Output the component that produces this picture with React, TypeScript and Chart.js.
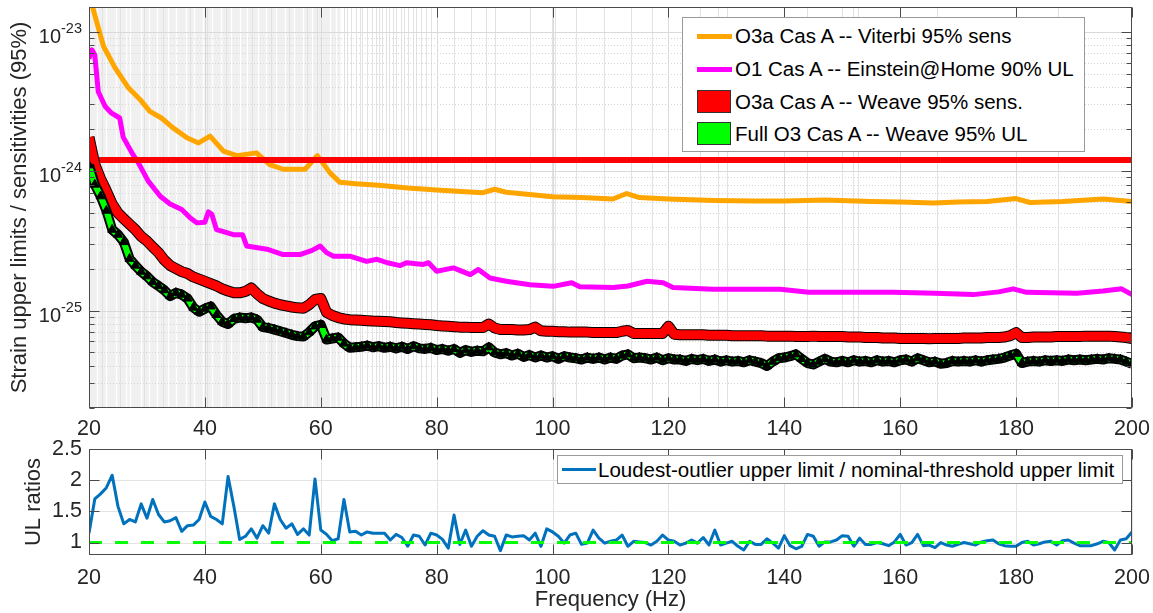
import React, { useEffect, useRef } from 'react';
import { Chart, registerables } from 'chart.js';

Chart.register(...registerables);

const FONT = "'Liberation Sans', Arial, Helvetica, sans-serif";
const TXT = '#262626';
const TICK_FONT = 21.5;
const TITLE_FONT = 22;

// ---------- data ----------
const FREQ = Array.from({ length: 181 }, (_, i) => 20 + i); // 1 Hz bins 20..200

// Full O3 Cas A -- Weave 95% UL (units of 1e-26)
const FULL_O3_UL = [
  110, 80, 66, 52, 38, 35, 31, 23.5, 21, 19,
  17.6, 16, 15, 14, 12.7, 13.4, 13, 12.2, 10.5, 9.8,
  10.3, 10.7, 9.3, 8.3, 8.0, 8.7, 8.9, 8.8, 8.9, 8.6,
  7.6, 7.5, 7.3, 7.1, 6.9, 6.7, 6.55, 6.5, 7.0, 7.7,
  7.9, 6.2, 6.3, 6.4, 5.8, 5.4, 5.45, 5.5, 5.6, 5.45,
  5.55, 5.4, 5.5, 5.35, 5.5, 5.3, 5.55, 5.35, 5.3, 5.4,
  5.2, 5.3, 5.15, 5.3, 4.97, 5.2, 5.05, 5.15, 5.1, 5.45,
  5.0, 4.85, 4.95, 4.75, 4.9, 4.65, 4.8, 4.6, 4.75, 4.6,
  4.7, 4.5, 4.7, 4.6, 4.55, 4.45, 4.6, 4.5, 4.6, 4.45,
  4.6, 4.5, 4.75, 4.85, 4.55, 4.6, 4.55, 4.45, 4.6, 4.4,
  4.55, 4.45, 4.45, 4.35, 4.5, 4.4, 4.5, 4.35, 4.45, 4.3,
  4.4, 4.3, 4.35, 4.25, 4.4, 4.3, 4.2, 4.0, 4.3, 4.55,
  4.6, 4.7, 4.85, 4.5, 4.2, 4.1, 4.3, 4.5, 4.3, 4.25,
  4.35, 4.25, 4.4, 4.3, 4.35, 4.25, 4.4, 4.3, 4.35, 4.25,
  4.4, 4.45, 4.3, 4.55, 4.4, 4.25, 4.3, 4.15, 4.2, 4.35,
  4.3, 4.35, 4.3, 4.4, 4.3, 4.4, 4.45, 4.5, 4.6, 4.75,
  4.9, 4.2, 4.3, 4.35, 4.3, 4.4, 4.35, 4.4, 4.35, 4.45,
  4.4, 4.45, 4.4, 4.45, 4.5, 4.45, 4.55, 4.5, 4.45, 4.3,
  4.15,
];

// O3a Cas A -- Weave 95% sens. (units of 1e-26)
const O3A_WEAVE_SENS = [
  175, 112, 88, 72, 58, 50, 45.5, 41.5, 38, 34,
  31.5, 28.5, 26, 23, 21, 20, 19, 18.4, 17.4, 16.8,
  16.2, 15.6, 15, 14.3, 13.8, 13.4, 13.4, 13.7, 14.5, 13.2,
  12.2, 11.7, 11.3, 11.0, 10.8, 10.6, 10.45, 10.4, 11.0, 12.0,
  12.2, 9.7, 9.2, 8.9, 8.7, 8.6, 8.55, 8.5, 8.45, 8.4,
  8.37, 8.33, 8.3, 8.2, 8.15, 8.1, 8.05, 8.0, 7.95, 7.9,
  7.8, 7.75, 7.7, 7.65, 7.6, 7.6, 7.55, 7.55, 7.55, 8.0,
  7.5, 7.3, 7.3, 7.3, 7.25, 7.25, 7.3, 7.6, 7.15, 7.1,
  7.1, 7.05, 7.05, 7.0, 7.0, 7.0, 7.0, 6.95, 6.95, 6.95,
  6.95, 6.95, 7.1, 7.2, 6.85, 6.85, 6.85, 6.85, 6.85, 6.85,
  7.7, 6.75, 6.7, 6.7, 6.7, 6.7, 6.7, 6.65, 6.65, 6.65,
  6.65, 6.6, 6.6, 6.6, 6.6, 6.6, 6.6, 6.55, 6.55, 6.55,
  6.55, 6.55, 6.5, 6.5, 6.5, 6.55, 6.5, 6.5, 6.5, 6.5,
  6.5, 6.45, 6.45, 6.45, 6.4, 6.4, 6.4, 6.35, 6.35, 6.35,
  6.3, 6.3, 6.3, 6.3, 6.3, 6.27, 6.3, 6.3, 6.3, 6.3,
  6.3, 6.35, 6.35, 6.35, 6.35, 6.4, 6.4, 6.4, 6.45, 6.6,
  6.95, 6.4, 6.4, 6.45, 6.45, 6.45, 6.45, 6.5, 6.5, 6.5,
  6.5, 6.5, 6.55, 6.55, 6.55, 6.55, 6.55, 6.5, 6.45, 6.4,
  6.3,
];

// O3a Cas A -- Viterbi 95% sens
const VITERBI_F = [
  20, 22.5, 24.5, 26.8, 28.8, 30.5, 32.5, 34.5, 36.9, 38.9, 40.9, 43.2, 45.5, 48.9, 51.2,
  53.5, 57.3, 59.4, 61.6, 63.3, 66, 70, 75, 80, 85, 88, 90, 92, 96, 100, 105, 110.4,
  112.8, 115, 120, 128, 135, 140, 147, 155, 160, 165.7, 170, 175, 180, 182.4, 188, 195, 200,
];
const VITERBI_H = [
  1.85e-23, 7.85e-24, 5.49e-24, 3.95e-24, 3.26e-24, 2.68e-24, 2.4e-24, 2.04e-24, 1.73e-24,
  1.59e-24, 1.78e-24, 1.39e-24, 1.29e-24, 1.35e-24, 1.11e-24, 1.03e-24, 1.03e-24, 1.29e-24,
  9.7e-25, 8.3e-25, 8.1e-25, 7.9e-25, 7.55e-25, 7.3e-25, 7.1e-25, 7.0e-25, 7.4e-25, 7.05e-25,
  6.8e-25, 6.55e-25, 6.45e-25, 6.3e-25, 6.9e-25, 6.45e-25, 6.3e-25, 6.15e-25, 6.1e-25,
  6.1e-25, 6.2e-25, 6.05e-25, 6.0e-25, 5.9e-25, 6.0e-25, 6.05e-25, 6.35e-25, 5.95e-25,
  6.05e-25, 6.3e-25, 6.05e-25,
];

// O1 Cas A -- Einstein@Home 90% UL
const EAH_F = [
  20, 20.5, 21, 21.6, 22.8, 23.9, 25.3, 25.9, 27.6, 28.5, 30.2, 32.3, 34, 36, 37.5, 38.6,
  40, 40.6, 41.2, 42, 43.5, 44.9, 46.5, 47.2, 50.7, 53.5, 56.4, 58.5, 59.9, 61, 62.2, 65,
  67.9, 69.7, 71.5, 73.7, 74.8, 77.7, 78.6, 80, 82.9, 85.8, 87.2, 89.2, 92, 96.1, 100.1,
  103.3, 104.7, 110.5, 113, 116.3, 119.1, 120.8, 127.7, 139.3, 144.2, 158.8, 166, 172.6,
  177, 179.5, 181.8, 190.5, 195, 198.2, 200,
];
const EAH_H = [
  6.4e-24, 7.4e-24, 6.8e-24, 3.7e-24, 2.9e-24, 2.6e-24, 2.4e-24, 1.75e-24, 1.31e-24, 1.15e-24,
  8.5e-25, 6.6e-25, 5.8e-25, 5.3e-25, 4.6e-25, 4.25e-25, 4.3e-25, 5.1e-25, 4.9e-25, 3.8e-25,
  3.65e-25, 3.5e-25, 3.5e-25, 2.9e-25, 2.75e-25, 2.52e-25, 2.52e-25, 2.7e-25, 2.9e-25,
  2.6e-25, 2.45e-25, 2.45e-25, 2.25e-25, 2.33e-25, 2.2e-25, 2.1e-25, 2.2e-25, 2.14e-25,
  2.2e-25, 1.91e-25, 2.02e-25, 1.81e-25, 1.97e-25, 1.71e-25, 1.62e-25, 1.53e-25, 1.49e-25,
  1.58e-25, 1.48e-25, 1.46e-25, 1.5e-25, 1.62e-25, 1.58e-25, 1.46e-25, 1.42e-25, 1.42e-25,
  1.35e-25, 1.35e-25, 1.33e-25, 1.3e-25, 1.36e-25, 1.43e-25, 1.35e-25, 1.33e-25, 1.38e-25,
  1.43e-25, 1.3e-25,
];

// horizontal reference (indirect limit)
const INDIRECT_LIMIT = 1.2e-24;

// Loudest-outlier UL / nominal-threshold UL
const UL_RATIO = [
  1.15, 1.70, 1.78, 1.88, 2.08, 1.58, 1.30, 1.37, 1.33, 1.62,
  1.39, 1.69, 1.45, 1.33, 1.35, 1.40, 1.18, 1.27, 1.28, 1.37,
  1.65, 1.42, 1.37, 1.30, 2.06, 1.58, 1.05, 1.10, 1.22, 1.07,
  1.27, 1.15, 1.62, 1.37, 1.23, 1.30, 1.13, 1.22, 1.12, 2.02,
  1.20, 1.13, 1.03, 1.06, 1.69, 1.17, 1.18, 1.12, 1.17, 1.15,
  1.15, 1.15, 1.04, 1.13, 1.08, 0.94, 1.12, 1.10, 0.96, 1.15,
  1.12, 1.05, 0.91, 1.44, 0.97, 1.20, 0.94, 1.10, 1.19, 1.12,
  1.10, 0.87, 1.12, 1.09, 1.10, 1.11, 1.04, 1.15, 0.94, 1.22,
  1.17, 1.10, 0.99, 1.12, 1.15, 0.97, 0.99, 1.20, 1.07, 0.99,
  1.02, 1.04, 1.12, 0.94, 1.02, 1.01, 1.00, 0.96, 1.02, 1.12,
  1.04, 1.02, 0.96, 0.99, 1.04, 0.99, 1.08, 0.96, 1.20, 0.96,
  0.99, 1.02, 0.94, 0.88, 1.02, 0.97, 0.97, 1.06, 0.99, 0.91,
  1.11, 0.95, 0.90, 0.94, 1.13, 1.10, 0.94, 1.01, 1.01, 1.04,
  1.11, 1.10, 0.94, 1.07, 0.97, 0.97, 1.00, 0.98, 0.95, 1.01,
  1.13, 0.96, 1.00, 1.13, 0.95, 0.96, 0.92, 1.00, 0.96, 0.94,
  0.97, 1.00, 0.98, 0.96, 1.01, 1.03, 1.04, 0.98, 0.95, 0.94,
  0.94, 1.00, 1.02, 0.96, 0.98, 1.01, 1.02, 0.96, 1.03, 1.04,
  0.99, 0.95, 0.95, 0.95, 0.98, 1.02, 1.00, 0.88, 1.04, 1.06,
  1.17,
];
const NOMINAL_RATIO = 1;

// axes
const X_TICKS = [20, 40, 60, 80, 100, 120, 140, 160, 180, 200];
const Y_TICKS_TOP = [1e-25, 1e-24, 1e-23];
const Y_TICK_BASE_TOP = '10';
const Y_TICK_EXP_TOP = ['-25', '-24', '-23'];
const Y_TICKS_BOT = [1, 1.5, 2, 2.5];
const Y_TICK_LABELS_BOT = ['1', '1.5', '2', '2.5'];

// vetoed / cleaned frequency bands in the background
const VETO_BANDS = [[20, 63.4]];
const VETO_GAPS = [
  21.4, 23.0, 24.6, 26.3, 27.1, 28.9, 30.4, 31.8, 33.6, 35.0, 36.7, 38.1, 39.6, 41.3, 42.7,
  44.5, 46.0, 47.3, 49.1, 50.5, 52.2, 53.8, 55.3, 56.9, 58.4, 60.0, 61.6, 62.7,
];
const VETO_LINES = [
  22.2, 25.4, 29.5, 32.7, 37.4, 40.3, 43.6, 48.2, 51.4, 54.6, 57.7, 59.4,
  64.0, 64.6, 65.3, 66.1, 66.8, 67.2, 68.0, 68.9, 69.5, 70.1, 70.6, 71.2, 71.7, 72.5, 73.0,
  73.8, 74.3, 75.0, 75.9, 76.5, 77.3, 78.1, 79.0, 83.0, 85.9, 88.6, 90.0, 96.1, 99.9, 100.5,
  104.0, 108.8, 113.6, 117.1, 119.9, 125.4, 128.5, 130.1, 143.9, 150.0, 151.8, 152.7, 160.0,
  166.3, 179.9, 187.2,
];

// ---------- helpers ----------
const pts = (xs: number[], ys: number[], scale = 1) => xs.map((x, i) => ({ x, y: ys[i] * scale }));

function vline(ctx: CanvasRenderingContext2D, x: number, y0: number, y1: number) {
  ctx.beginPath();
  ctx.moveTo(x, y0);
  ctx.lineTo(x, y1);
  ctx.stroke();
}
function hline(ctx: CanvasRenderingContext2D, y: number, x0: number, x1: number) {
  ctx.beginPath();
  ctx.moveTo(x0, y);
  ctx.lineTo(x1, y);
  ctx.stroke();
}

const zeroXPad = (s: any, h: number) => {
  s.height = h;
  s.paddingLeft = 0;
  s.paddingRight = 0;
};
const zeroYPad = (s: any, w: number) => {
  s.width = w;
  s.paddingTop = 0;
  s.paddingBottom = 0;
};

const topAxesPlugin = {
  id: 'topAxes',
  beforeDatasetsDraw(chart: any) {
    const { ctx, chartArea: a, scales } = chart;
    const x = scales.x;
    const y = scales.y;
    ctx.save();
    ctx.beginPath();
    ctx.rect(a.left, a.top, a.right - a.left, a.bottom - a.top);
    ctx.clip();
    ctx.fillStyle = '#f0f0f0';
    for (const [f0, f1] of VETO_BANDS) {
      const p0 = x.getPixelForValue(f0);
      const p1 = x.getPixelForValue(f1);
      ctx.fillRect(p0, a.top, p1 - p0, a.bottom - a.top);
    }
    ctx.strokeStyle = '#ffffff';
    ctx.lineWidth = 1.3;
    for (const f of VETO_GAPS) vline(ctx, Math.round(x.getPixelForValue(f)) + 0.5, a.top, a.bottom);
    ctx.strokeStyle = '#e2e2e2';
    ctx.lineWidth = 1;
    for (const f of VETO_LINES) vline(ctx, Math.round(x.getPixelForValue(f)) + 0.5, a.top, a.bottom);
    // minor dotted grid
    ctx.setLineDash([1, 2]);
    ctx.strokeStyle = '#d4d4d4';
    for (let e = -27; e <= -23; e++) {
      for (let k = 2; k <= 9; k++) {
        const v = k * Math.pow(10, e);
        if (v <= y.min || v >= y.max) continue;
        hline(ctx, Math.round(y.getPixelForValue(v)) + 0.5, a.left, a.right);
      }
    }
    ctx.setLineDash([]);
    ctx.strokeStyle = '#dadada';
    for (const t of X_TICKS) vline(ctx, Math.round(x.getPixelForValue(t)) + 0.5, a.top, a.bottom);
    for (const t of Y_TICKS_TOP) hline(ctx, Math.round(y.getPixelForValue(t)) + 0.5, a.left, a.right);
    ctx.restore();
  },
  afterDatasetsDraw(chart: any) {
    const { ctx, chartArea: a, scales } = chart;
    const x = scales.x;
    const y = scales.y;
    ctx.save();
    ctx.strokeStyle = '#4a4a4a';
    ctx.lineWidth = 1;
    const L = Math.round(a.left) + 0.5, R = Math.round(a.right) - 0.5;
    const T = Math.round(a.top) + 0.5, B = Math.round(a.bottom) - 0.5;
    ctx.strokeRect(L, T, R - L, B - T);
    for (const t of X_TICKS) {
      const p = Math.round(x.getPixelForValue(t)) + 0.5;
      vline(ctx, p, B, B - 10);
      vline(ctx, p, T, T + 10);
    }
    for (let e = -27; e <= -23; e++) {
      for (let k = 1; k <= 9; k++) {
        const v = k * Math.pow(10, e);
        if (v <= y.min || v >= y.max) continue;
        const p = Math.round(y.getPixelForValue(v)) + 0.5;
        const len = k === 1 ? 10 : 5;
        hline(ctx, p, L, L + len);
        hline(ctx, p, R, R - len);
      }
    }
    // y tick labels with superscript exponents
    ctx.fillStyle = TXT;
    ctx.textBaseline = 'alphabetic';
    ctx.textAlign = 'left';
    Y_TICKS_TOP.forEach((v, i) => {
      const p = y.getPixelForValue(v);
      const exp = Y_TICK_EXP_TOP[i];
      ctx.font = `14.5px ${FONT}`;
      const we = ctx.measureText(exp).width;
      ctx.font = `20px ${FONT}`;
      const wb = ctx.measureText(Y_TICK_BASE_TOP).width;
      const right = a.left - 7;
      const xb = right - we - wb;
      ctx.fillText(Y_TICK_BASE_TOP, xb, p + 11);
      ctx.font = `14.5px ${FONT}`;
      ctx.fillText(exp, right - we, p + 1);
    });
    ctx.restore();
  },
};

const botAxesPlugin = {
  id: 'botAxes',
  beforeDatasetsDraw(chart: any) {
    const { ctx, chartArea: a, scales } = chart;
    const x = scales.x;
    const y = scales.y;
    ctx.save();
    ctx.strokeStyle = '#e3e3e3';
    ctx.lineWidth = 1;
    for (const t of X_TICKS) vline(ctx, Math.round(x.getPixelForValue(t)) + 0.5, a.top, a.bottom);
    for (const t of Y_TICKS_BOT) hline(ctx, Math.round(y.getPixelForValue(t)) + 0.5, a.left, a.right);
    ctx.restore();
  },
  afterDatasetsDraw(chart: any) {
    const { ctx, chartArea: a, scales } = chart;
    const x = scales.x;
    const y = scales.y;
    ctx.save();
    ctx.strokeStyle = '#4a4a4a';
    ctx.lineWidth = 1;
    const L = Math.round(a.left) + 0.5, R = Math.round(a.right) - 0.5;
    const T = Math.round(a.top) + 0.5, B = Math.round(a.bottom) - 0.5;
    ctx.strokeRect(L, T, R - L, B - T);
    for (const t of X_TICKS) {
      const p = Math.round(x.getPixelForValue(t)) + 0.5;
      vline(ctx, p, B, B - 10);
      vline(ctx, p, T, T + 10);
    }
    for (const t of Y_TICKS_BOT) {
      const p = Math.round(y.getPixelForValue(t)) + 0.5;
      hline(ctx, p, L, L + 10);
      hline(ctx, p, R, R - 10);
    }
    ctx.restore();
  },
};

const TOP_H = 440;
const BOT_TOP = 440;
const BOT_H = 173;

function TopChart() {
  const ref = useRef<HTMLCanvasElement>(null);
  useEffect(() => {
    const chart = new Chart(ref.current as HTMLCanvasElement, {
      type: 'line',
      data: {
        datasets: [
          {
            label: 'Full O3 Cas A -- Weave 95% UL',
            data: pts(FREQ, FULL_O3_UL, 1e-26),
            borderColor: '#00ff00',
            borderWidth: 6,
            pointStyle: 'triangle',
            pointRadius: 5.2,
            pointBackgroundColor: '#000000',
            pointBorderColor: '#000000',
            pointBorderWidth: 1,
            order: 0,
            clip: 0,
          } as any,
          {
            label: 'UL edge',
            data: pts(FREQ, FULL_O3_UL, 1e-26),
            borderColor: '#000000',
            borderWidth: 10,
            pointRadius: 0,
            order: 1,
            clip: 0,
          },
          {
            label: 'O3a Cas A -- Weave 95% sens.',
            data: pts(FREQ, O3A_WEAVE_SENS, 1e-26),
            borderColor: '#ff0000',
            borderWidth: 9,
            pointRadius: 0,
            order: 2,
            clip: 0,
          },
          {
            label: 'sens edge',
            data: pts(FREQ, O3A_WEAVE_SENS, 1e-26),
            borderColor: '#000000',
            borderWidth: 11,
            pointRadius: 0,
            order: 3,
            clip: 0,
          },
          {
            label: 'Indirect limit',
            data: [
              { x: 20, y: INDIRECT_LIMIT },
              { x: 200, y: INDIRECT_LIMIT },
            ],
            borderColor: '#ff0000',
            borderWidth: 6,
            pointRadius: 0,
            order: 4,
            clip: 0,
          },
          {
            label: 'O1 Cas A -- Einstein@Home 90% UL',
            data: pts(EAH_F, EAH_H),
            borderColor: '#ff00ff',
            borderWidth: 5,
            pointRadius: 0,
            order: 5,
            clip: 0,
          },
          {
            label: 'O3a Cas A -- Viterbi 95% sens',
            data: pts(VITERBI_F, VITERBI_H),
            borderColor: '#ffa500',
            borderWidth: 5,
            pointRadius: 0,
            order: 6,
            clip: 0,
          },
        ],
      },
      options: {
        animation: false,
        responsive: false,
        maintainAspectRatio: false,
        events: [],
        layout: { padding: { top: 7, right: 21, left: 0, bottom: 0 } },
        elements: { line: { tension: 0, borderJoinStyle: 'round', borderCapStyle: 'butt' } },
        plugins: { legend: { display: false }, tooltip: { enabled: false } },
        scales: {
          x: {
            type: 'linear',
            min: 20,
            max: 200,
            grid: { display: false, drawTicks: false },
            border: { display: false },
            afterBuildTicks: (s: any) => {
              s.ticks = X_TICKS.map((v) => ({ value: v }));
            },
            afterFit: (s: any) => zeroXPad(s, TOP_H - 408),
            ticks: {
              autoSkip: false,
              maxRotation: 0,
              padding: 8,
              color: TXT,
              font: { family: FONT, size: TICK_FONT },
            },
          },
          y: {
            type: 'logarithmic',
            min: 2e-26,
            max: 1.5e-23,
            grid: { display: false, drawTicks: false },
            border: { display: false },
            afterBuildTicks: (s: any) => {
              s.ticks = Y_TICKS_TOP.map((v) => ({ value: v }));
            },
            afterFit: (s: any) => zeroYPad(s, 89),
            ticks: { display: false },
            title: {
              display: true,
              text: 'Strain upper limits / sensitivities (95%)',
              color: TXT,
              font: { family: FONT, size: TITLE_FONT },
              padding: { top: 7, bottom: 0 },
            },
          },
        },
      },
      plugins: [topAxesPlugin],
    } as any);
    return () => chart.destroy();
  }, []);
  return (
    <canvas
      ref={ref}
      width={1153}
      height={TOP_H}
      style={{ position: 'absolute', left: 0, top: 0, width: 1153, height: TOP_H }}
    />
  );
}

function BottomChart() {
  const ref = useRef<HTMLCanvasElement>(null);
  useEffect(() => {
    const chart = new Chart(ref.current as HTMLCanvasElement, {
      type: 'line',
      data: {
        datasets: [
          {
            label: 'nominal',
            data: [
              { x: 20, y: NOMINAL_RATIO },
              { x: 200, y: NOMINAL_RATIO },
            ],
            borderColor: '#00ff00',
            borderWidth: 3,
            borderDash: [13, 13],
            pointRadius: 0,
            order: 0,
          },
          {
            label: 'Loudest-outlier upper limit / nominal-threshold upper limit',
            data: pts(FREQ, UL_RATIO),
            borderColor: '#0072bd',
            borderWidth: 3,
            pointRadius: 0,
            order: 1,
            clip: 0,
          },
        ],
      },
      options: {
        animation: false,
        responsive: false,
        maintainAspectRatio: false,
        events: [],
        layout: { padding: { top: 9, right: 21, left: 0, bottom: 0 } },
        elements: { line: { tension: 0, borderJoinStyle: 'round' } },
        plugins: { legend: { display: false }, tooltip: { enabled: false } },
        scales: {
          x: {
            type: 'linear',
            min: 20,
            max: 200,
            grid: { display: false, drawTicks: false },
            border: { display: false },
            afterBuildTicks: (s: any) => {
              s.ticks = X_TICKS.map((v) => ({ value: v }));
            },
            afterFit: (s: any) => zeroXPad(s, BOT_H - (555 - BOT_TOP)),
            ticks: {
              autoSkip: false,
              maxRotation: 0,
              padding: 10,
              color: TXT,
              font: { family: FONT, size: TICK_FONT },
            },
            title: {
              display: true,
              text: 'Frequency (Hz)',
              color: TXT,
              font: { family: FONT, size: TITLE_FONT },
              padding: { top: 0, bottom: 0 },
            },
          },
          y: {
            type: 'linear',
            min: 0.8,
            max: 2.5,
            grid: { display: false, drawTicks: false },
            border: { display: false },
            afterBuildTicks: (s: any) => {
              s.ticks = Y_TICKS_BOT.map((v) => ({ value: v }));
            },
            afterFit: (s: any) => zeroYPad(s, 89),
            ticks: {
              autoSkip: false,
              padding: 7,
              color: TXT,
              font: { family: FONT, size: TICK_FONT },
              callback: (_v: any, i: number) => Y_TICK_LABELS_BOT[i],
            },
            title: {
              display: true,
              text: 'UL ratios',
              color: TXT,
              font: { family: FONT, size: TITLE_FONT },
              padding: { top: 21, bottom: 0 },
            },
          },
        },
      },
      plugins: [botAxesPlugin],
    } as any);
    return () => chart.destroy();
  }, []);
  return (
    <canvas
      ref={ref}
      width={1153}
      height={BOT_H}
      style={{ position: 'absolute', left: 0, top: BOT_TOP, width: 1153, height: BOT_H }}
    />
  );
}

const LEGEND_TOP = [
  { text: 'O3a Cas A -- Viterbi 95% sens', color: '#ffa500', kind: 'line', cy: 35 },
  { text: 'O1 Cas A -- Einstein@Home 90% UL', color: '#ff00ff', kind: 'line', cy: 68 },
  { text: 'O3a Cas A -- Weave 95% sens.', color: '#ff0000', kind: 'rect', cy: 101 },
  { text: 'Full O3 Cas A -- Weave 95% UL', color: '#00ff00', kind: 'rect', cy: 133 },
];

function TopLegend() {
  const boxL = 682, boxT = 17;
  return (
    <div
      style={{
        position: 'absolute',
        left: boxL,
        top: boxT,
        width: 403,
        height: 135,
        boxSizing: 'border-box',
        border: '1px solid #9a9a9a',
        background: '#ffffff',
        fontFamily: FONT,
        fontSize: 20.5,
        color: '#000',
      }}
    >
      {LEGEND_TOP.map((it) => (
        <div key={it.text} style={{ position: 'absolute', left: 0, right: 0, top: it.cy - boxT - 13, height: 26 }}>
          {it.kind === 'line' ? (
            <div style={{ position: 'absolute', left: 14, top: 10.5, width: 35, height: 5, background: it.color }} />
          ) : (
            <div
              style={{
                position: 'absolute',
                left: 14,
                top: 1,
                width: 34,
                height: 23,
                boxSizing: 'border-box',
                background: it.color,
                border: '1px solid #333',
              }}
            />
          )}
          <div style={{ position: 'absolute', left: 52, top: 0, lineHeight: '26px', whiteSpace: 'nowrap' }}>{it.text}</div>
        </div>
      ))}
    </div>
  );
}

function BottomLegend() {
  return (
    <div
      style={{
        position: 'absolute',
        left: 557,
        top: 455,
        width: 566,
        height: 29,
        boxSizing: 'border-box',
        border: '1px solid #9a9a9a',
        background: '#ffffff',
        fontFamily: FONT,
        fontSize: 20.5,
        color: '#000',
      }}
    >
      <div style={{ position: 'absolute', left: 4, top: 12, width: 34, height: 3, background: '#0072bd' }} />
      <div style={{ position: 'absolute', left: 40, top: 0, lineHeight: '27px', whiteSpace: 'nowrap' }}>
        Loudest-outlier upper limit / nominal-threshold upper limit
      </div>
    </div>
  );
}

export default function App() {
  return (
    <div style={{ position: 'absolute', left: 0, top: 0, width: 1153, height: 613, background: '#fff', overflow: 'hidden' }}>
      <TopChart />
      <BottomChart />
      <TopLegend />
      <BottomLegend />
    </div>
  );
}
